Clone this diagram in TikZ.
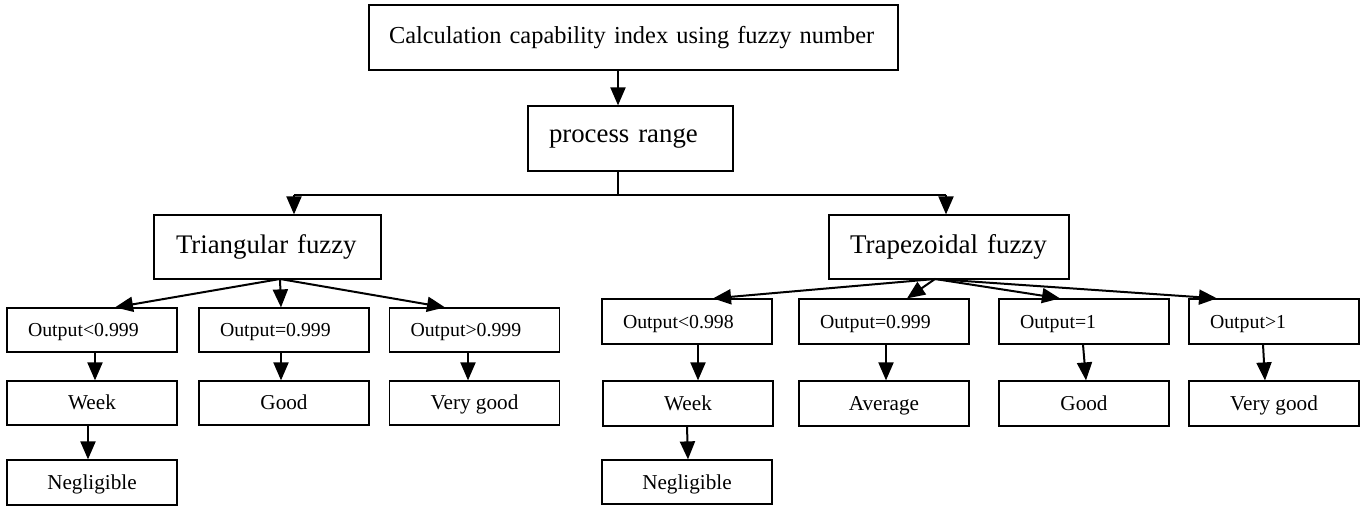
\documentclass[tikz,border=0pt]{standalone}
\usepackage{fontspec}
\setmainfont{Liberation Serif}
\usetikzlibrary{arrows.meta, calc}

\tikzset{
  box/.style={draw, line width=0.6pt, inner ysep=0pt},
  headbox/.style={box, align=left, inner xsep=10.5pt},
  outbox/.style={box, minimum width=85pt, minimum height=22pt, text width=64pt,
    align=left, inner xsep=10.5pt, text height=6.6pt, text depth=0pt,
    font=\fontsize{9.9}{11}\selectfont},
  resbox/.style={box, minimum width=85pt, minimum height=22pt, align=center,
    text height=7pt, text depth=0pt, font=\fontsize{10.6}{12}\selectfont},
  arr/.style={line width=1pt, -{Triangle[length=9pt,width=7.5pt]}},
  link/.style={line width=0.6pt}
}

\begin{document}
\begin{tikzpicture}[x=0.5pt, y=-0.5pt]
\useasboundingbox (0,0) rectangle (1368,506);

% top levels
\node[headbox, minimum width=264.5pt, minimum height=32.5pt, text width=244.5pt,
  inner xsep=10pt, font=\fontsize{12.2}{14}\selectfont] (calc) at (633.5,37.5)
  {\raisebox{2.5pt}{Calculation capability index using fuzzy number}};
\node[headbox, minimum width=102.5pt, minimum height=32.5pt, text width=81.5pt,
  font=\fontsize{13.4}{15}\selectfont] (range) at (630.5,138.5)
  {\raisebox{2.5pt}{process range}};
\node[headbox, minimum width=113.5pt, minimum height=32pt, text width=91.5pt,
  inner xsep=11pt, font=\fontsize{13.4}{15}\selectfont] (tri) at (267.5,247)
  {\raisebox{2.5pt}{Triangular fuzzy}};
\node[headbox, minimum width=120pt, minimum height=32pt, text width=99pt,
  font=\fontsize{13.5}{15}\selectfont] (trap) at (949,247)
  {\raisebox{2.5pt}{Trapezoidal fuzzy}};

% triangular branch
\node[outbox] (tout1) at (92,330) {Output<0.999};
\node[outbox] (tout2) at (284,330) {Output=0.999};
\node[outbox] (tout3) at (474.5,330) {Output>0.999};
\node[resbox] (tres1) at (92,403) {Week};
\node[resbox] (tres2) at (284,403) {Good};
\node[resbox] (tres3) at (474.5,403) {Very good};
\node[resbox, minimum height=22.5pt] (tneg) at (92,482.5) {Negligible};

% trapezoidal branch
\node[outbox, minimum height=22.5pt] (pout1) at (687,321.5) {Output<0.998};
\node[outbox, minimum height=22.5pt] (pout2) at (884,321.5) {Output=0.999};
\node[outbox, minimum height=22.5pt] (pout3) at (1084,321.5) {Output=1};
\node[outbox, minimum height=22.5pt] (pout4) at (1274,321.5) {Output>1};
\node[resbox, minimum height=22.5pt] (pres1) at (688,403.5) {Week};
\node[resbox, minimum height=22.5pt] (pres2) at (884,403.5) {Average};
\node[resbox, minimum height=22.5pt] (pres3) at (1084,403.5) {Good};
\node[resbox, minimum height=22.5pt] (pres4) at (1274,403.5) {Very good};
\node[resbox] (pneg) at (687,482) {Negligible};

% connectors
\coordinate (hub) at (618,195);
\coordinate (hubl) at (294,195);
\coordinate (hubr) at (946,195);
\coordinate (tribase) at (280,279);
\coordinate (trapbase) at (935,279);

\draw[arr] (calc.south -| hub) -- (range.north -| hub);
\draw[link] (range.south -| hub) -- (hub);
\draw[link] (hubl) -- (hubr);
\draw[arr] (hubl) -- (hubl |- tri.north);
\draw[arr] (hubr) -- (hubr |- trap.north);

\draw[arr] (tribase) -- ([xshift=11.5pt]tout1.north);
\draw[arr] (tribase) -- ([xshift=-1.5pt]tout2.north);
\draw[arr] (tribase) -- ([xshift=-14.75pt]tout3.north);
\draw[arr] ([xshift=1.5pt]tout1.south) -- ([xshift=1.5pt]tres1.north);
\draw[arr] ([xshift=-2pt]tres1.south) -- ([xshift=-2pt]tneg.north);
\draw[arr] ([xshift=-1.5pt]tout2.south) -- ([xshift=-1.5pt]tres2.north);
\draw[arr] ([xshift=-3.25pt]tout3.south) -- ([xshift=-3.25pt]tres3.north);

\draw[arr] (trapbase) -- ([xshift=13pt]pout1.north);
\draw[arr] (trapbase) -- ([xshift=11.5pt]pout2.north);
\draw[arr] (trapbase) -- ([xshift=-12pt]pout3.north);
\draw[arr] (trapbase) -- ([xshift=-28.5pt]pout4.north);
\draw[arr] ([xshift=5.5pt]pout1.south) -- ([xshift=5pt]pres1.north);
\draw[arr] ([xshift=-0.5pt]pres1.south) -- ([xshift=0.5pt]pneg.north);
\draw[arr] ([xshift=1pt]pout2.south) -- ([xshift=1pt]pres2.north);
\draw[arr] ([xshift=-0.5pt]pout3.south) -- ([xshift=1pt]pres3.north);
\draw[arr] ([xshift=-5.5pt]pout4.south) -- ([xshift=-4.5pt]pres4.north);
\end{tikzpicture}
\end{document}
